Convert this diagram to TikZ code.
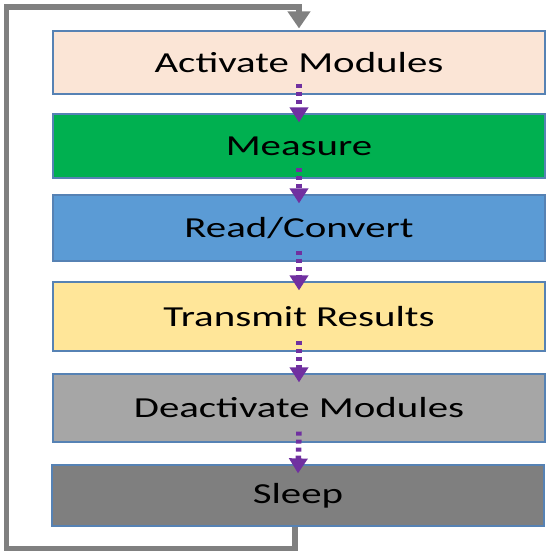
\documentclass[tikz,border=0pt]{standalone}
\usepackage{fontspec}
\setmainfont[FakeStretch=1.41]{Carlito}
\usepackage{xcolor}
\usetikzlibrary{arrows.meta}
\definecolor{actfill}{HTML}{FBE5D6}
\definecolor{measfill}{HTML}{00B050}
\definecolor{readfill}{HTML}{5B9BD5}
\definecolor{sendfill}{HTML}{FFE699}
\definecolor{deactfill}{HTML}{A6A6A6}
\definecolor{sleepfill}{HTML}{7F7F7F}
\definecolor{boxline}{HTML}{5682B4}
\definecolor{flowpurple}{HTML}{7030A0}
\definecolor{loopgray}{HTML}{808080}
\tikzset{stage/.style={draw=boxline, line width=1.2pt, minimum width=492pt,
  inner sep=0pt, font=\fontsize{29}{34}\selectfont},
 flow/.style={draw=flowpurple, line width=5.5pt, dash pattern=on 4pt off 4pt,
  -{Triangle[length=15pt,width=18pt]}},
 backline/.style={draw=loopgray, line width=5.5pt,
  -{Triangle[length=17pt,width=22pt]}},
 }

\begin{document}
\begin{tikzpicture}[x=1pt, y=-1pt]
        \useasboundingbox (0, 0) rectangle (550, 557);
        \node[stage, fill=actfill, minimum height=63pt] (act) at (299, 62.5) {Activate Modules};
        \node[stage, fill=measfill, minimum height=64pt] (meas) at (299, 146) {Measure};
        \node[stage, fill=readfill, minimum height=66pt] (read) at (299, 228) {Read/Convert};
        \node[stage, fill=sendfill, minimum height=69pt] (send) at (299, 316.5) {Transmit Results};
        \node[stage, fill=deactfill, minimum height=68pt] (deact) at (299, 408) {Deactivate Modules};
        \node[stage, fill=sleepfill, minimum height=61pt] (sleep) at (298, 495.5) {Sleep};
        % purple steps between the boxes
        \draw[flow] ([yshift=11pt]act.south) -- ([yshift=-9pt]meas.north);
        \draw[flow] ([yshift=11pt]meas.south) -- ([yshift=-9pt]read.north);
        \draw[flow] ([yshift=11pt]read.south) -- ([yshift=-9pt]send.north);
        \draw[flow] ([yshift=11pt]send.south) -- ([yshift=-9pt]deact.north);
        \draw[flow] ([yshift=11pt]deact.south) -- ([yshift=-9pt]sleep.north);
        % back to the start
        \coordinate (lowleft) at (6.5, 548.5);
        \coordinate (topleft) at (6.5, 7);
        \draw[backline] ([xshift=-3pt]sleep.south) |- (lowleft) |- (topleft) -| ([yshift=2pt]act.north);
    \end{tikzpicture}
\end{document}
